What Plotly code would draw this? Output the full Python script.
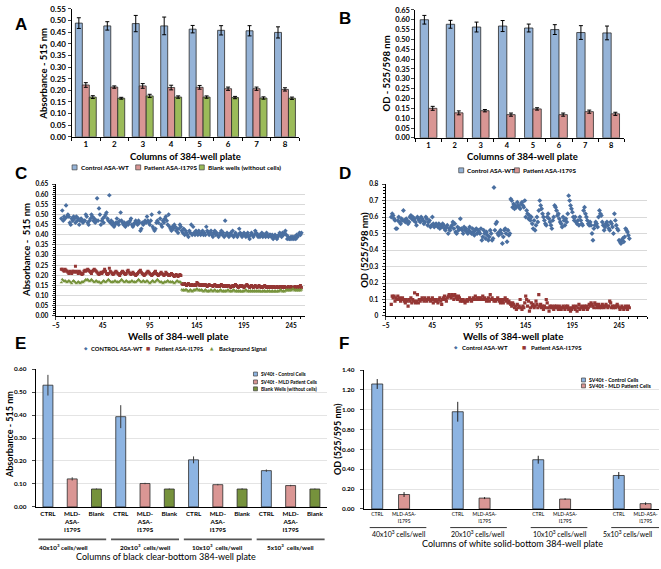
import plotly.graph_objects as go

W, H = 661, 569
def fx(p): return p / W
def fy(p): return 1 - p / H

FONT = "Lato"

# ---------------- Panel A ----------------
a_cols = [1, 2, 3, 4, 5, 6, 7, 8]
a_ctrl = [0.489, 0.477, 0.487, 0.477, 0.463, 0.458, 0.456, 0.449]
a_ctrl_err = [0.023, 0.018, 0.035, 0.038, 0.016, 0.020, 0.022, 0.024]
a_pat = [0.223, 0.214, 0.219, 0.212, 0.213, 0.207, 0.207, 0.204]
a_pat_err = [0.010, 0.005, 0.010, 0.010, 0.008, 0.007, 0.007, 0.007]
a_blank = [0.171, 0.166, 0.176, 0.171, 0.171, 0.169, 0.167, 0.166]
a_blank_err = [0.006, 0.004, 0.007, 0.005, 0.005, 0.005, 0.005, 0.005]

# ---------------- Panel B ----------------
b_cols = [1, 2, 3, 4, 5, 6, 7, 8]
b_ctrl = [0.600, 0.577, 0.563, 0.568, 0.558, 0.550, 0.535, 0.533]
b_ctrl_err = [0.022, 0.020, 0.025, 0.028, 0.020, 0.025, 0.035, 0.035]
b_pat = [0.150, 0.127, 0.138, 0.118, 0.147, 0.118, 0.133, 0.122]
b_pat_err = [0.010, 0.010, 0.006, 0.008, 0.006, 0.008, 0.008, 0.008]

# ---------------- Panel C (wells) ----------------
c_ctrl = [
    0.48, 0.52, 0.47, 0.49, 0.48, 0.545, 0.49, 0.50, 0.49, 0.46, 0.45, 0.48, 0.47, 0.49, 0.48, 0.46,
    0.49, 0.47, 0.48, 0.45, 0.47, 0.48, 0.47, 0.46, 0.47, 0.47, 0.50, 0.49, 0.46, 0.45, 0.47, 0.48,
    0.50, 0.49, 0.47, 0.48, 0.46, 0.47, 0.58, 0.47, 0.53, 0.50, 0.45, 0.47, 0.48, 0.46, 0.49, 0.50,
    0.51, 0.48, 0.47, 0.595, 0.46, 0.47, 0.45, 0.46, 0.44, 0.45, 0.46, 0.48, 0.46, 0.45, 0.47, 0.51,
    0.47, 0.46, 0.45, 0.46, 0.44, 0.45, 0.46, 0.45, 0.46, 0.47, 0.48, 0.45, 0.44, 0.45, 0.46, 0.47,
    0.46, 0.45, 0.47, 0.46, 0.42, 0.43, 0.46, 0.45, 0.46, 0.47, 0.46, 0.49, 0.47, 0.46, 0.45, 0.47,
    0.50, 0.44, 0.43, 0.42, 0.43, 0.46, 0.47, 0.46, 0.51, 0.48, 0.45, 0.44, 0.47, 0.46, 0.48, 0.49,
    0.47, 0.45, 0.50, 0.44, 0.43, 0.42, 0.44, 0.43, 0.45, 0.44, 0.42, 0.43, 0.41, 0.43, 0.45, 0.44,
    0.42, 0.41, 0.43, 0.40, 0.42, 0.41, 0.40, 0.39, 0.42, 0.41, 0.45, 0.40, 0.44, 0.41, 0.40, 0.42,
    0.41, 0.40, 0.42, 0.41, 0.40, 0.41, 0.42, 0.40, 0.41, 0.40, 0.44, 0.42, 0.41, 0.40, 0.41, 0.42,
    0.40, 0.39, 0.41, 0.42, 0.40, 0.41, 0.40, 0.39, 0.40, 0.41, 0.42, 0.40, 0.41, 0.39, 0.47, 0.40,
    0.41, 0.40, 0.39, 0.40, 0.41, 0.40, 0.42, 0.39, 0.40, 0.41, 0.40, 0.39, 0.40, 0.43, 0.41, 0.40,
    0.39, 0.40, 0.41, 0.40, 0.39, 0.40, 0.41, 0.39, 0.38, 0.40, 0.41, 0.40, 0.39, 0.40, 0.42, 0.41,
    0.40, 0.39, 0.40, 0.39, 0.40, 0.41, 0.39, 0.40, 0.40, 0.39, 0.41, 0.40, 0.39, 0.40, 0.40, 0.39,
    0.40, 0.38, 0.39, 0.40, 0.39, 0.38, 0.39, 0.40, 0.41, 0.40, 0.39, 0.41, 0.40, 0.41, 0.42, 0.40,
    0.38, 0.39, 0.38, 0.38, 0.39, 0.38, 0.39, 0.38, 0.39, 0.38, 0.40, 0.39, 0.40, 0.41, 0.40, 0.41,
]
c_pat = [
    0.23, 0.23, 0.225, 0.22, 0.23, 0.225, 0.22, 0.215, 0.21, 0.22, 0.215, 0.21, 0.22, 0.22, 0.215, 0.245,
    0.22, 0.215, 0.21, 0.22, 0.215, 0.21, 0.205, 0.21, 0.22, 0.225, 0.22, 0.225, 0.23, 0.225, 0.22, 0.215,
    0.21, 0.22, 0.225, 0.23, 0.225, 0.22, 0.215, 0.21, 0.205, 0.21, 0.215, 0.21, 0.215, 0.22, 0.23, 0.22,
    0.21, 0.205, 0.21, 0.235, 0.22, 0.215, 0.21, 0.205, 0.21, 0.215, 0.22, 0.215, 0.21, 0.205, 0.20, 0.21,
    0.215, 0.22, 0.215, 0.21, 0.205, 0.21, 0.22, 0.225, 0.215, 0.21, 0.205, 0.21, 0.215, 0.21, 0.205, 0.20,
    0.205, 0.21, 0.215, 0.22, 0.225, 0.215, 0.21, 0.205, 0.20, 0.205, 0.21, 0.215, 0.22, 0.215, 0.21, 0.205,
    0.20, 0.205, 0.21, 0.215, 0.22, 0.21, 0.205, 0.20, 0.205, 0.21, 0.215, 0.21, 0.205, 0.20, 0.205, 0.215,
    0.21, 0.205, 0.20, 0.20, 0.205, 0.21, 0.205, 0.20, 0.195, 0.20, 0.205, 0.20, 0.195, 0.20, 0.205, 0.20,
    0.16, 0.155, 0.155, 0.16, 0.155, 0.15, 0.155, 0.16, 0.155, 0.15, 0.15, 0.155, 0.15, 0.15, 0.155, 0.15,
    0.165, 0.16, 0.155, 0.15, 0.155, 0.15, 0.155, 0.15, 0.15, 0.155, 0.15, 0.145, 0.15, 0.155, 0.15, 0.15,
    0.15, 0.145, 0.15, 0.155, 0.15, 0.145, 0.15, 0.15, 0.145, 0.15, 0.155, 0.15, 0.145, 0.15, 0.145, 0.15,
    0.145, 0.15, 0.15, 0.145, 0.14, 0.145, 0.15, 0.145, 0.15, 0.155, 0.15, 0.145, 0.14, 0.145, 0.15, 0.145,
    0.15, 0.145, 0.14, 0.145, 0.15, 0.155, 0.15, 0.145, 0.14, 0.145, 0.15, 0.145, 0.14, 0.145, 0.15, 0.145,
    0.14, 0.145, 0.15, 0.145, 0.14, 0.145, 0.14, 0.145, 0.15, 0.145, 0.14, 0.145, 0.14, 0.14, 0.145, 0.14,
    0.145, 0.14, 0.145, 0.14, 0.14, 0.145, 0.14, 0.14, 0.145, 0.14, 0.145, 0.14, 0.14, 0.145, 0.14, 0.14,
    0.14, 0.145, 0.14, 0.14, 0.145, 0.14, 0.135, 0.14, 0.145, 0.14, 0.14, 0.145, 0.14, 0.145, 0.15, 0.14,
]
c_bg = [
    0.165, 0.18, 0.175, 0.17, 0.175, 0.17, 0.165, 0.17, 0.175, 0.17, 0.165, 0.16, 0.17, 0.175, 0.17, 0.165,
    0.16, 0.165, 0.17, 0.165, 0.16, 0.165, 0.17, 0.165, 0.17, 0.175, 0.18, 0.175, 0.18, 0.175, 0.17, 0.175,
    0.18, 0.175, 0.17, 0.165, 0.17, 0.175, 0.17, 0.165, 0.17, 0.165, 0.16, 0.165, 0.17, 0.175, 0.17, 0.165,
    0.17, 0.175, 0.18, 0.175, 0.17, 0.165, 0.17, 0.165, 0.17, 0.175, 0.17, 0.165, 0.17, 0.165, 0.17, 0.175,
    0.18, 0.175, 0.17, 0.165, 0.17, 0.175, 0.17, 0.165, 0.17, 0.165, 0.17, 0.175, 0.17, 0.165, 0.17, 0.165,
    0.17, 0.175, 0.18, 0.175, 0.17, 0.165, 0.17, 0.175, 0.17, 0.165, 0.17, 0.175, 0.17, 0.165, 0.16, 0.165,
    0.17, 0.175, 0.17, 0.165, 0.17, 0.175, 0.18, 0.175, 0.17, 0.165, 0.17, 0.165, 0.16, 0.165, 0.17, 0.165,
    0.17, 0.175, 0.17, 0.165, 0.17, 0.165, 0.17, 0.165, 0.16, 0.165, 0.17, 0.175, 0.17, 0.165, 0.17, 0.165,
    0.13, 0.125, 0.13, 0.125, 0.13, 0.13, 0.125, 0.12, 0.125, 0.13, 0.125, 0.12, 0.125, 0.13, 0.125, 0.13,
    0.135, 0.13, 0.125, 0.13, 0.125, 0.13, 0.125, 0.12, 0.125, 0.13, 0.125, 0.12, 0.125, 0.12, 0.125, 0.13,
    0.125, 0.12, 0.125, 0.13, 0.125, 0.12, 0.125, 0.12, 0.125, 0.13, 0.125, 0.12, 0.125, 0.12, 0.125, 0.12,
    0.125, 0.13, 0.125, 0.12, 0.125, 0.12, 0.125, 0.13, 0.125, 0.12, 0.125, 0.12, 0.125, 0.12, 0.125, 0.12,
    0.12, 0.125, 0.12, 0.125, 0.13, 0.125, 0.12, 0.125, 0.12, 0.125, 0.12, 0.125, 0.12, 0.125, 0.12, 0.125,
    0.12, 0.125, 0.12, 0.125, 0.12, 0.12, 0.125, 0.12, 0.125, 0.12, 0.12, 0.125, 0.12, 0.125, 0.12, 0.12,
    0.125, 0.12, 0.12, 0.125, 0.12, 0.12, 0.125, 0.12, 0.125, 0.13, 0.125, 0.12, 0.125, 0.12, 0.125, 0.13,
    0.125, 0.13, 0.125, 0.13, 0.125, 0.13, 0.135, 0.13, 0.125, 0.13, 0.125, 0.13, 0.125, 0.13, 0.125, 0.13,
]

# ---------------- Panel D (wells) ----------------
d_ctrl = [
    0.60, 0.62, 0.61, 0.59, 0.58, 0.53, 0.53, 0.58, 0.60, 0.57, 0.56, 0.59, 0.58, 0.64, 0.58, 0.57,
    0.59, 0.58, 0.56, 0.57, 0.60, 0.61, 0.59, 0.60, 0.58, 0.59, 0.57, 0.55, 0.60, 0.59, 0.58, 0.57,
    0.60, 0.59, 0.58, 0.56, 0.57, 0.60, 0.59, 0.55, 0.57, 0.58, 0.54, 0.55, 0.60, 0.56, 0.54, 0.55,
    0.56, 0.55, 0.54, 0.56, 0.53, 0.55, 0.54, 0.56, 0.55, 0.53, 0.52, 0.54, 0.55, 0.50, 0.53, 0.52,
    0.54, 0.55, 0.57, 0.53, 0.56, 0.51, 0.50, 0.54, 0.52, 0.53, 0.59, 0.53, 0.52, 0.50, 0.54, 0.52,
    0.53, 0.51, 0.50, 0.52, 0.54, 0.51, 0.50, 0.53, 0.51, 0.49, 0.52, 0.53, 0.50, 0.52, 0.51, 0.50,
    0.53, 0.46, 0.48, 0.52, 0.50, 0.47, 0.51, 0.49, 0.46, 0.48, 0.52, 0.50, 0.46, 0.47, 0.78, 0.52,
    0.56, 0.57, 0.50, 0.49, 0.51, 0.52, 0.50, 0.44, 0.48, 0.52, 0.53, 0.50, 0.45, 0.52, 0.49, 0.50,
    0.71, 0.70, 0.66, 0.68, 0.65, 0.67, 0.66, 0.69, 0.67, 0.66, 0.65, 0.68, 0.69, 0.67, 0.66, 0.70,
    0.60, 0.64, 0.62, 0.59, 0.61, 0.58, 0.60, 0.56, 0.53, 0.58, 0.52, 0.55, 0.60, 0.57, 0.64, 0.70,
    0.67, 0.65, 0.62, 0.60, 0.58, 0.56, 0.55, 0.60, 0.62, 0.59, 0.57, 0.55, 0.53, 0.58, 0.60, 0.67,
    0.66, 0.64, 0.61, 0.62, 0.59, 0.57, 0.56, 0.54, 0.60, 0.58, 0.55, 0.59, 0.57, 0.62, 0.73, 0.70,
    0.67, 0.65, 0.63, 0.60, 0.58, 0.60, 0.57, 0.56, 0.58, 0.55, 0.60, 0.58, 0.56, 0.55, 0.64, 0.66,
    0.62, 0.60, 0.58, 0.56, 0.55, 0.57, 0.55, 0.50, 0.46, 0.53, 0.55, 0.57, 0.56, 0.54, 0.60, 0.64,
    0.62, 0.61, 0.57, 0.55, 0.52, 0.54, 0.56, 0.57, 0.55, 0.53, 0.52, 0.57, 0.56, 0.54, 0.50, 0.62,
    0.58, 0.55, 0.53, 0.52, 0.46, 0.45, 0.44, 0.46, 0.47, 0.45, 0.48, 0.53, 0.52, 0.51, 0.49, 0.47,
]
d_pat = [
    0.07, 0.12, 0.11, 0.12, 0.09, 0.11, 0.10, 0.12, 0.10, 0.11, 0.09, 0.10, 0.11, 0.10, 0.09, 0.08,
    0.10, 0.09, 0.06, 0.10, 0.09, 0.11, 0.08, 0.10, 0.09, 0.14, 0.08, 0.09, 0.13, 0.08, 0.10, 0.09,
    0.10, 0.11, 0.10, 0.09, 0.11, 0.10, 0.09, 0.10, 0.11, 0.10, 0.09, 0.10, 0.11, 0.08, 0.10, 0.09,
    0.10, 0.09, 0.08, 0.10, 0.11, 0.09, 0.07, 0.10, 0.11, 0.12, 0.10, 0.09, 0.11, 0.12, 0.13, 0.12,
    0.11, 0.13, 0.12, 0.10, 0.13, 0.12, 0.11, 0.10, 0.12, 0.11, 0.09, 0.10, 0.09, 0.10, 0.09, 0.08,
    0.09, 0.10, 0.09, 0.10, 0.11, 0.10, 0.09, 0.10, 0.11, 0.10, 0.12, 0.10, 0.11, 0.10, 0.11, 0.10,
    0.11, 0.10, 0.12, 0.10, 0.11, 0.10, 0.09, 0.10, 0.11, 0.09, 0.13, 0.10, 0.11, 0.10, 0.09, 0.10,
    0.09, 0.10, 0.11, 0.10, 0.09, 0.08, 0.10, 0.09, 0.08, 0.10, 0.11, 0.09, 0.10, 0.08, 0.09, 0.08,
    0.07, 0.06, 0.08, 0.07, 0.05, 0.06, 0.04, 0.07, 0.05, 0.06, 0.10, 0.05, 0.04, 0.06, 0.05, 0.08,
    0.12, 0.10, 0.06, 0.09, 0.03, 0.05, 0.08, 0.06, 0.07, 0.05, 0.06, 0.09, 0.07, 0.05, 0.13, 0.06,
    0.07, 0.05, 0.06, 0.04, 0.06, 0.05, 0.10, 0.08, 0.05, 0.03, 0.06, 0.05, 0.06, 0.05, 0.04, 0.06,
    0.05, 0.06, 0.05, 0.04, 0.06, 0.05, 0.04, 0.05, 0.06, 0.05, 0.04, 0.06, 0.05, 0.06, 0.04, 0.05,
    0.03, 0.04, 0.05, 0.06, 0.05, 0.04, 0.06, 0.03, 0.05, 0.07, 0.04, 0.05, 0.06, 0.05, 0.04, 0.06,
    0.05, 0.06, 0.04, 0.05, 0.07, 0.06, 0.08, 0.07, 0.06, 0.05, 0.08, 0.07, 0.05, 0.06, 0.07, 0.05,
    0.06, 0.05, 0.07, 0.06, 0.05, 0.06, 0.07, 0.06, 0.05, 0.06, 0.09, 0.08, 0.05, 0.06, 0.05, 0.06,
    0.05, 0.06, 0.07, 0.06, 0.05, 0.04, 0.05, 0.06, 0.05, 0.04, 0.05, 0.06, 0.05, 0.04, 0.06, 0.05,
]
well_ticks = [-5, 45, 95, 145, 195, 245]

# ---------------- Panel E ----------------
e_cat_labels = ["CTRL", "MLD-<br>ASA-<br>I179S", "Blank"] * 4
e_groups = ["40x10<sup>3</sup> cells/well", "20x10<sup>3</sup>  cells/well",
            "10x10<sup>3</sup>  cells/well", "5x10<sup>3</sup>  cells/well"]
e_ctrl = [0.530, 0.393, 0.205, 0.158]
e_ctrl_err = [0.045, 0.050, 0.015, 0.005]
e_pat = [0.122, 0.102, 0.097, 0.093]
e_pat_err = [0.007, 0.003, 0.003, 0.003]
e_blank = [0.078, 0.078, 0.078, 0.078]
e_blank_err = [0.002, 0.002, 0.003, 0.002]

# ---------------- Panel F ----------------
f_cat_labels = ["CTRL", "MLD-ASA-<br>I179S"] * 4
f_groups = ["40x10<sup>3</sup> cells/well", "20x10<sup>3</sup> cells/well",
            "10x10<sup>3</sup> cells/well", "5x10<sup>3</sup> cells/well"]
f_ctrl = [1.26, 0.98, 0.496, 0.337]
f_ctrl_err = [0.05, 0.10, 0.04, 0.035]
f_pat = [0.145, 0.109, 0.099, 0.053]
f_pat_err = [0.025, 0.010, 0.008, 0.013]

# colours
BLUE_A, RED_A, GREEN_A = "#95B3D7", "#D99694", "#9BBB59"
BLUE_E, RED_E, GREEN_E = "#8DB4E2", "#DA9694", "#76923C"
EDGE = "#2b2b2b"
SC_BLUE, SC_RED, SC_GREEN = "#4A6FA0", "#943634", "#77933C"
GRID = "#D9D9D9"

fig = go.Figure()

def bar(x, y, err, color, xa, ya, width, offset, ecolor="black", ewidth=2):
    fig.add_trace(go.Bar(
        x=x, y=y, width=width, offset=offset, xaxis=xa, yaxis=ya,
        marker=dict(color=color, line=dict(color=EDGE, width=0.8)),
        error_y=dict(type="data", array=err, color=ecolor, thickness=1, width=ewidth),
        showlegend=False, hoverinfo="skip"))

# A
wA = 0.245
bar(a_cols, a_ctrl, a_ctrl_err, BLUE_A, "x", "y", wA, -1.5 * wA)
bar(a_cols, a_pat, a_pat_err, RED_A, "x", "y", wA, -0.5 * wA)
bar(a_cols, a_blank, a_blank_err, GREEN_A, "x", "y", wA, 0.5 * wA)
# B
wB = 0.32
bar(b_cols, b_ctrl, b_ctrl_err, BLUE_A, "x2", "y2", wB, -wB)
bar(b_cols, b_pat, b_pat_err, RED_A, "x2", "y2", wB, 0)

# C / D scatter
def sc(y, sym, size, color, xa, ya):
    fig.add_trace(go.Scatter(
        x=list(range(1, len(y) + 1)), y=y, mode="markers", xaxis=xa, yaxis=ya,
        marker=dict(symbol=sym, size=size, color=color, line=dict(width=0)),
        showlegend=False, hoverinfo="skip"))

sc(c_ctrl, "diamond", 3.6, SC_BLUE, "x3", "y3")
sc(c_pat, "square", 3.0, SC_RED, "x3", "y3")
sc(c_bg, "triangle-up", 3.2, SC_GREEN, "x3", "y3")
sc(d_ctrl, "diamond", 3.8, SC_BLUE, "x4", "y4")
sc(d_pat, "square", 3.2, SC_RED, "x4", "y4")

# E
e_pos_ctrl = [3 * g for g in range(4)]
e_pos_pat = [3 * g + 1 for g in range(4)]
e_pos_blank = [3 * g + 2 for g in range(4)]
wE = 0.41
bar(e_pos_ctrl, e_ctrl, e_ctrl_err, BLUE_E, "x5", "y5", wE, -wE / 2, "#3a3a3a", 0)
bar(e_pos_pat, e_pat, e_pat_err, RED_E, "x5", "y5", wE, -wE / 2, "#3a3a3a", 0)
bar(e_pos_blank, e_blank, e_blank_err, GREEN_E, "x5", "y5", wE, -wE / 2, "#3a3a3a", 0)
# F
wF = 0.41
bar(e_pos_ctrl, f_ctrl, f_ctrl_err, BLUE_E, "x6", "y6", wF, -wF / 2, "#222222", 0)
bar(e_pos_pat, f_pat, f_pat_err, RED_E, "x6", "y6", wF, -wF / 2, "#222222", 0)

# ---------------- axes ----------------
def bfont(size, color="black", weight="bold"):
    return dict(family=FONT, size=size, color=color, weight=weight)

def axis(domain, anchor, **kw):
    d = dict(domain=domain, anchor=anchor, showline=True, linecolor="black", linewidth=1,
             zeroline=False, showgrid=False, fixedrange=True)
    d.update(kw)
    return d

layout = dict(
    width=W, height=H, margin=dict(l=0, r=0, t=0, b=0),
    paper_bgcolor="white", plot_bgcolor="white", barmode="overlay",
    font=dict(family=FONT, color="black"), hovermode=False, showlegend=False,
)

layout["xaxis"] = axis([fx(68), fx(297)], "y", range=[0.5, 8.5], tickvals=a_cols, ticks="",
                       tickfont=bfont(8),
                       minor=dict(tick0=0.5, dtick=1, ticks="outside", ticklen=3, tickcolor="black"))
layout["yaxis"] = axis([fy(135), fy(5)], "x", range=[0, 0.55], dtick=0.05, tickformat=".2f",
                       ticks="outside", ticklen=3, tickfont=bfont(8))
layout["xaxis2"] = axis([fx(414), fx(624)], "y2", range=[0.5, 8.5], tickvals=b_cols, ticks="",
                        tickfont=bfont(7.5),
                        minor=dict(tick0=0.5, dtick=1, ticks="outside", ticklen=3, tickcolor="black"))
layout["yaxis2"] = axis([fy(136), fy(6)], "x2", range=[0, 0.65], dtick=0.05, tickformat=".2f",
                        ticks="outside", ticklen=3, tickfont=bfont(7.5))
layout["xaxis3"] = axis([fx(52), fx(303)], "y3", range=[-5, 260], tickvals=well_ticks,
                        ticks="outside", ticklen=3, tickfont=bfont(6.5),
                        minor=dict(tick0=-5, dtick=10, ticks="outside", ticklen=2, tickcolor="black"))
layout["yaxis3"] = axis([fy(317), fy(183)], "x3", range=[0, 0.65], dtick=0.05, tickformat=".2f",
                        ticks="outside", ticklen=3, showgrid=True, gridcolor=GRID, gridwidth=1,
                        tickfont=bfont(6.5), ticklabelstandoff=2,
                        minor=dict(dtick=0.01, ticks="outside", ticklen=2, tickcolor="black"))
layout["xaxis4"] = axis([fx(384), fx(647)], "y4", range=[-5, 275], tickvals=well_ticks,
                        ticks="outside", ticklen=3, tickfont=bfont(6.5),
                        minor=dict(tick0=-5, dtick=10, ticks="outside", ticklen=2, tickcolor="black"))
layout["yaxis4"] = axis([fy(317), fy(183)], "x4", range=[0, 0.8], dtick=0.1,
                        ticks="outside", ticklen=3, showgrid=True, gridcolor=GRID, gridwidth=1,
                        tickfont=bfont(6.5), ticklabelstandoff=2,
                        minor=dict(dtick=0.02, ticks="outside", ticklen=2, tickcolor="black"))
layout["xaxis5"] = axis([fx(32), fx(325)], "y5", range=[-0.5, 11.5], tickvals=list(range(12)),
                        ticktext=e_cat_labels, ticks="", tickfont=bfont(6.3), linewidth=1.5)
layout["yaxis5"] = axis([fy(511), fy(371)], "x5", range=[0, 0.6], dtick=0.1, tickformat=".2f",
                        ticks="outside", ticklen=3, showgrid=True, gridcolor="#E4E4E4",
                        tickfont=bfont(6.4), ticklabelstandoff=4)
f_ticks_sorted = sorted(e_pos_ctrl + e_pos_pat)
f_text = [f_cat_labels[0] if t % 3 == 0 else f_cat_labels[1] for t in f_ticks_sorted]
layout["xaxis6"] = axis([fx(362), fx(659)], "y6", range=[-0.5, 10.5], tickvals=f_ticks_sorted,
                        ticktext=f_text, ticks="", tickfont=dict(family=FONT, size=5, color="black"),
                        linewidth=1.5)
layout["yaxis6"] = axis([fy(513), fy(372)], "x6", range=[0, 1.4], dtick=0.2, tickformat=".2f",
                        ticks="outside", ticklen=3, showgrid=True, gridcolor="#E4E4E4",
                        tickfont=bfont(6.4), ticklabelstandoff=4)
fig.update_layout(**layout)

# ---------------- annotations ----------------
ann = []
def text(x, y, s, size, weight="bold", angle=0, xanchor="center", color="black", family=FONT,
         xref="paper", xval=None):
    ann.append(dict(x=xval if xval is not None else fx(x), y=fy(y), xref=xref, yref="paper",
                    text=s, showarrow=False, textangle=angle, xanchor=xanchor, yanchor="middle",
                    font=dict(family=family, size=size, color=color, weight=weight)))

# panel letters
for lab, x, y in [("A", 17, 21), ("B", 343, 15), ("C", 17, 172), ("D", 343, 172),
                  ("E", 17, 345), ("F", 342, 345)]:
    text(x, y, lab, 17, family="Liberation Sans")

# axis titles
text(40, 71, "Absorbance - 515 nm", 9.5, angle=-90)
text(183, 155, "Columns of 384-well plate", 9.5)
text(385, 71, "OD - 525/598 nm", 9.5, angle=-90)
text(522, 155, "Columns of 384-well plate", 9.5)
text(22, 250, "Absorbance -  515 nm", 9.5, angle=-90)
text(175, 337, "Wells of 384-well plate", 9.8)
text(362, 250, "OD (525/598 nm)", 9.5, angle=-90)
text(512, 337, "Wells of 384-well plate", 9.8)
text(5, 437, "Absorbance - 515 nm", 9, angle=-90)
text(163, 561, "Columns of black clear-bottom 384-well plate", 9, weight="normal")
text(335, 442, "OD (525/595 nm)", 9, angle=-90)
text(512, 548, "Columns of white solid-bottom 384-well plate", 9, weight="normal")

# legends
shapes = []
def keybox(x, y, color, s=5):
    shapes.append(dict(type="rect", xref="paper", yref="paper",
                       x0=fx(x - s / 2), x1=fx(x + s / 2), y0=fy(y + s / 2), y1=fy(y - s / 2),
                       fillcolor=color, line=dict(color="#404040", width=0.7)))

for kx, tx, col, s in [(71, 75, BLUE_A, "Control ASA-WT"), (135, 139, RED_A, "Patient ASA-I179S"),
                       (199, 203, GREEN_A, "Blank wells (without cells)")]:
    keybox(kx, 166, col)
    text(tx, 166, s, 6.4, xanchor="left")
for kx, tx, col, s in [(460, 464, BLUE_A, "Control ASA-WT"), (516, 520, RED_A, "Patient ASA-I179S")]:
    keybox(kx, 169, col)
    text(tx, 169, s, 6.4, xanchor="left")

for kx, tx, col, sym, s in [(82, 86, SC_BLUE, "◆", "CONTROL ASA-WT"),
                            (145, 150, SC_RED, "■", "Patient ASA-I179S"),
                            (209, 214, SC_GREEN, "▲", "Background Signal")]:
    text(kx, 350, sym, 4.5, color=col, family="DejaVu Sans", weight="normal")
    text(tx, 350, s, 5.8, xanchor="left")
for kx, tx, col, sym, s in [(455, 459, SC_BLUE, "◆", "Control ASA-WT"),
                            (523, 528, SC_RED, "■", "Patient ASA-I179S")]:
    text(kx, 349, sym, 4.5, color=col, family="DejaVu Sans", weight="normal")
    text(tx, 349, s, 6.1, xanchor="left")

for yy, col, s in [(376, BLUE_E, "SV40t - Control Cells"), (384, RED_E, "SV40t - MLD Patient Cells"),
                   (391, GREEN_E, "Blank Wells (without cells)")]:
    keybox(253, yy, col, 4)
    text(257, yy, s, 4.8, xanchor="left")
for yy, col, s in [(382, BLUE_E, "SV40t - Control Cells"), (388, RED_E, "SV40t - MLD Patient Cells")]:
    keybox(583, yy, col, 4)
    text(587, yy, s, 5.3, xanchor="left")

# group labels and underlines for E / F
e_group_centers = [0.65, 4.0, 7.0, 10.0]
for g, lab in enumerate(e_groups):
    shapes.append(dict(type="line", xref="x5", yref="paper", x0=3 * g - 0.4, x1=3 * g + 2.4,
                       y0=fy(544), y1=fy(544), line=dict(color="#555555", width=1.8)))
    text(0, 552, lab, 6.3, xref="x5", xval=e_group_centers[g])
f_group_centers = [0.8, 3.75, 6.8, 9.35]
for g, lab in enumerate(f_groups):
    shapes.append(dict(type="line", xref="x6", yref="paper", x0=3 * g - 0.28, x1=3 * g + 1.83,
                       y0=fy(532), y1=fy(532), line=dict(color="#333333", width=1)))
    text(0, 538, lab, 7, weight="normal", xref="x6", xval=f_group_centers[g])

fig.update_layout(annotations=ann, shapes=shapes)
fig.write_html("out.html", config={"displayModeBar": False, "staticPlot": True},
               post_script="document.body.style.margin='0px';document.body.style.overflow='hidden';")
